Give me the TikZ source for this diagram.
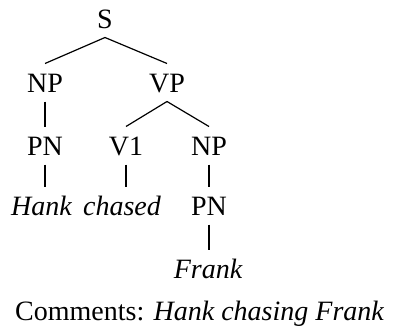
\documentclass[tikz,border=0pt]{standalone}
\usepackage{fontspec}
\setmainfont{Liberation Serif}
\begin{document}
\begin{tikzpicture}[x=1pt,y=1pt,
  lab/.style={anchor=base,inner sep=0pt,outer sep=9.5pt,text height=19pt,text depth=0pt,font=\fontsize{28}{34}\selectfont},
  wrd/.style={lab,font=\fontsize{28}{34}\selectfont\itshape},
  br/.style={line width=1.2pt}]
\useasboundingbox (0,0) rectangle (396,333);
\node[lab] (S) at (105,305) {S};
\node[lab] (NPa) at (45,241) {NP};
\node[lab] (VP) at (167,241) {VP};
\node[lab] (PNa) at (45,178) {PN};
\node[lab] (V1) at (126,178) {V1};
\node[lab] (NPb) at (209,178) {NP};
\node[wrd] (Hank) at (41.5,118) {Hank};
\node[wrd] (chased) at (122,118) {chased};
\node[lab] (PNb) at (209,118) {PN};
\node[wrd] (Frank) at (208,55) {Frank};
\node[anchor=base west,inner sep=0pt,font=\fontsize{28}{34}\selectfont] (C) at (15,13) {Comments: \textit{Hank chasing Frank}};
\draw[br] (S.south) -- (NPa.north);
\draw[br] (S.south) -- (VP.north);
\draw[br] (NPa.south) -- (PNa.north);
\draw[br] (VP.south) -- (V1.north);
\draw[br] (VP.south) -- (NPb.north);
\draw[br] (PNa.south) -- (PNa.south |- Hank.north);
\draw[br] (V1.south) -- (V1.south |- chased.north);
\draw[br] (NPb.south) -- (PNb.north);
\draw[br] (PNb.south) -- (PNb.south |- Frank.north);
\end{tikzpicture}
\end{document}
